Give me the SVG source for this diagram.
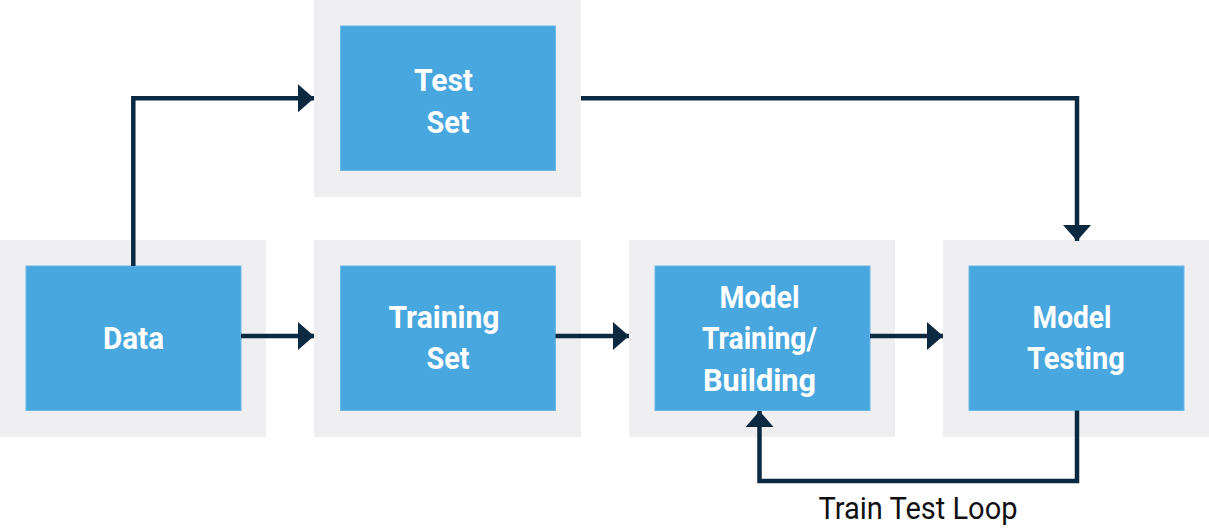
<svg xmlns="http://www.w3.org/2000/svg" width="1209" height="530" viewBox="0 0 1209 530">
<defs>
<style>
.outer{fill:#efeff2}
.inner{fill:#48a7de;stroke:#6cb8e6;stroke-width:1}
.lbl{font-family:Roboto,"Liberation Sans",sans-serif;font-weight:bold;font-size:32px;fill:#ffffff;text-anchor:middle}
.edge{fill:none;stroke:#0b2a42;stroke-width:4.5;stroke-linejoin:miter}
.cap{font-family:Roboto,"Liberation Sans",sans-serif;font-size:32px;fill:#111111;text-anchor:middle}
</style>
<marker id="arr" viewBox="0 0 16 28" refX="16" refY="14" markerWidth="16" markerHeight="28" markerUnits="userSpaceOnUse" orient="auto">
<path d="M0,0 L16,14 L0,28 Z" fill="#0b2a42"/>
</marker>
</defs>
<rect width="1209" height="530" fill="#ffffff"/>
<g id="node-data">
<rect class="outer" x="0" y="240" width="266" height="197"/>
<rect class="inner" x="26" y="266" width="215" height="144.5"/>
<text class="lbl" x="133.5" y="349" textLength="61" lengthAdjust="spacingAndGlyphs">Data</text>
</g>
<g id="node-test-set">
<rect class="outer" x="314" y="0" width="267" height="197"/>
<rect class="inner" x="340.5" y="26" width="215" height="144.5"/>
<text class="lbl" x="443.5" y="91" textLength="59" lengthAdjust="spacingAndGlyphs">Test</text>
<text class="lbl" x="448" y="133" textLength="43" lengthAdjust="spacingAndGlyphs">Set</text>
</g>
<g id="node-training-set">
<rect class="outer" x="314" y="240" width="267" height="197"/>
<rect class="inner" x="340.5" y="266" width="215" height="144.5"/>
<text class="lbl" x="444" y="327.5" textLength="111" lengthAdjust="spacingAndGlyphs">Training</text>
<text class="lbl" x="448" y="369" textLength="43" lengthAdjust="spacingAndGlyphs">Set</text>
</g>
<g id="node-model-training">
<rect class="outer" x="629" y="240" width="266" height="197"/>
<rect class="inner" x="655" y="266" width="215" height="144.5"/>
<text class="lbl" x="759.5" y="307.5" textLength="80" lengthAdjust="spacingAndGlyphs">Model</text>
<text class="lbl" x="759.5" y="349" textLength="115" lengthAdjust="spacingAndGlyphs">Training/</text>
<text class="lbl" x="759.5" y="390.5" textLength="113" lengthAdjust="spacingAndGlyphs">Building</text>
</g>
<g id="node-model-testing">
<rect class="outer" x="943" y="240" width="266" height="197"/>
<rect class="inner" x="969" y="266" width="215" height="144.5"/>
<text class="lbl" x="1072" y="327.5" textLength="79" lengthAdjust="spacingAndGlyphs">Model</text>
<text class="lbl" x="1076" y="369" textLength="98" lengthAdjust="spacingAndGlyphs">Testing</text>
</g>
<g id="connectors">
<path class="edge" d="M133.3,266 V98.3 H314" marker-end="url(#arr)"/>
<path class="edge" d="M241,336 H314" marker-end="url(#arr)"/>
<path class="edge" d="M555.5,336 H629" marker-end="url(#arr)"/>
<path class="edge" d="M870,336 H943" marker-end="url(#arr)"/>
<path class="edge" d="M581,98.3 H1077 V241" marker-end="url(#arr)"/>
<path class="edge" d="M1077,410.5 V481 H759.5 V411" marker-end="url(#arr)"/>
</g>
<text class="cap" x="918" y="519" textLength="199" lengthAdjust="spacingAndGlyphs">Train Test Loop</text>
</svg>
